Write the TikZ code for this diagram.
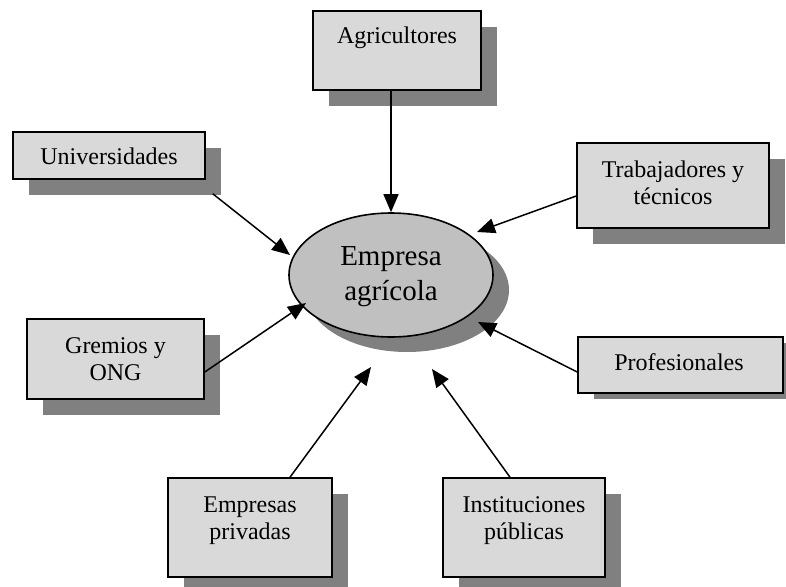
\documentclass[tikz,border=0pt]{standalone}
\usepackage{fontspec}
\setmainfont{Liberation Serif}
\usetikzlibrary{arrows.meta,shapes.geometric,shadows}
\definecolor{boxfill}{HTML}{D9D9D9}
\definecolor{shadowgray}{HTML}{808080}
\definecolor{ellfill}{HTML}{C0C0C0}
\begin{document}
\begin{tikzpicture}[x=1pt,y=-1pt,
  boxnode/.style={draw=black,line width=1.6pt,fill=boxfill,inner sep=0pt,
    drop shadow={shadow xshift=16pt,shadow yshift=-16pt,fill=shadowgray,opacity=1}},
  lbl/.style={anchor=base,align=center,inner sep=0pt,font=\fontsize{24}{27}\selectfont},
  conn/.style={line width=1.5pt,-{Triangle[length=18pt,width=15pt]}}]
\useasboundingbox (0,0) rectangle (786,586);
% Profesionales shadow (thin, clipped at right edge)
\fill[shadowgray] (594,343) rectangle (786,399);
% boxes
\node[boxnode,minimum width=168pt,minimum height=79pt] (agr) at (397,50.5) {};
\node[boxnode,minimum width=192pt,minimum height=47pt] (uni) at (109,155.5) {};
\node[boxnode,minimum width=192pt,minimum height=85pt] (trab) at (673,185.5) {};
\node[boxnode,minimum width=177pt,minimum height=80pt] (grem) at (115.5,359) {};
\node[draw=black,line width=1.6pt,fill=boxfill,inner sep=0pt,minimum width=205pt,minimum height=56pt] (prof) at (680.5,365) {};
\node[boxnode,minimum width=164pt,minimum height=99pt] (empr) at (250,527.5) {};
\node[boxnode,minimum width=162pt,minimum height=99pt] (inst) at (524,527.5) {};
% central ellipse
\node[ellipse,draw=black,line width=1.6pt,fill=ellfill,inner sep=0pt,minimum width=204pt,minimum height=124pt,
  drop shadow={shadow xshift=16pt,shadow yshift=-15pt,fill=shadowgray,opacity=1}] (ea) at (391,275) {};
% texts (base anchor = baseline of the last line)
\node[lbl] (agrT) at (397,44) {Agricultores};
\node[lbl] (uniT) at (109,164) {Universidades};
\node[lbl] (trabT) at (673,204) {Trabajadores y\\técnicos};
\node[lbl] (gremT) at (115.5,380) {Gremios y\\ONG};
\node[lbl] (profT) at (679,370) {Profesionales};
\node[lbl] (emprT) at (250,539) {Empresas\\privadas};
\node[lbl] (instT) at (524,539) {Instituciones\\públicas};
\node[anchor=base,align=center,inner sep=0pt,font=\fontsize{29}{35}\selectfont] (eaT) at (391,300) {Empresa\\agrícola};
% arrow tips
\coordinate (tU) at (290,255);
\coordinate (tT) at (477,232);
\coordinate (tG) at (306,303);
\coordinate (tP) at (478,322);
\coordinate (tE) at (371,367);
\coordinate (tI) at (432,369);
% connectors
\draw[conn] ([xshift=-6pt]agr.south) -- (ea.north);
\draw[conn] ([xshift=7pt,yshift=-14pt]uni.south east) -- (tU);
\draw[conn] ([yshift=-10.5pt]trab.west) -- (tT);
\draw[conn] ([yshift=-13pt]grem.east) -- (tG);
\draw[conn] ([yshift=-7pt]prof.west) -- (tP);
\draw[conn] ([xshift=40pt]empr.north) -- (tE);
\draw[conn] ([xshift=-14pt]inst.north) -- (tI);
\end{tikzpicture}
\end{document}
